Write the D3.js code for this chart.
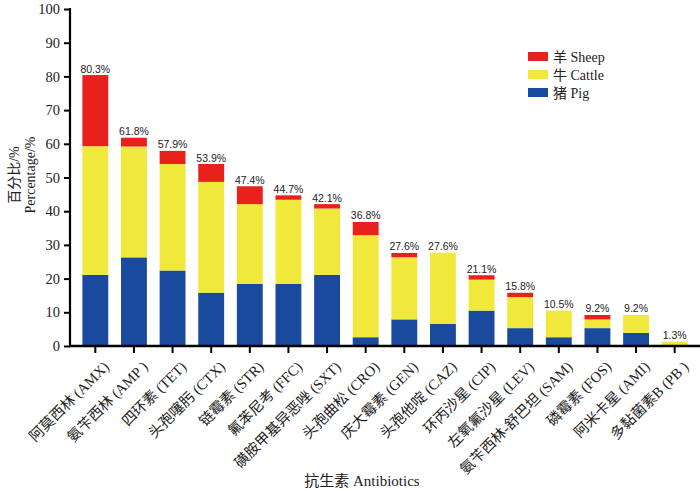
<!DOCTYPE html>
<html>
<head>
<meta charset="utf-8">
<script src="https://cdn.jsdelivr.net/npm/d3@7"></script>
<style>
  body { margin: 0; background: #fff; }
  .serif { font-family: "Liberation Serif", "Noto Sans CJK SC", serif; }
</style>
</head>
<body>
<div id="chart"></div>
<script>
const categories = [
  "阿莫西林 (AMX)", "氨苄西林 (AMP )", "四环素 (TET)", "头孢噻肟 (CTX)",
  "链霉素 (STR)", "氟苯尼考 (FFC)", "磺胺甲基异恶唑 (SXT)", "头孢曲松 (CRO)",
  "庆大霉素 (GEN)", "头孢他啶 (CAZ)", "环丙沙星 (CIP)", "左氧氟沙星 (LEV)",
  "氨苄西林-舒巴坦 (SAM)", "磷霉素 (FOS)", "阿米卡星 (AMI)", "多黏菌素B (PB )"
];
const pig = [21.1, 26.3, 22.4, 15.8, 18.4, 18.4, 21.1, 2.6, 7.9, 6.6, 10.5, 5.3, 2.6, 5.3, 3.9, 0];
const cattle = [38.2, 32.9, 31.6, 32.9, 23.7, 25.0, 19.7, 30.3, 18.4, 21.1, 9.2, 9.2, 7.9, 2.6, 5.3, 1.3];
const sheep = [21.1, 2.6, 3.9, 5.3, 5.3, 1.3, 1.3, 3.9, 1.3, 0, 1.3, 1.3, 0, 1.3, 0, 0];
const totals = ["80.3%", "61.8%", "57.9%", "53.9%", "47.4%", "44.7%", "42.1%", "36.8%",
  "27.6%", "27.6%", "21.1%", "15.8%", "10.5%", "9.2%", "9.2%", "1.3%"];
const yTicks = [0, 10, 20, 30, 40, 50, 60, 70, 80, 90, 100];

const seriesKeys = ["pig", "cattle", "sheep"];
const seriesNames = { sheep: "羊 Sheep", cattle: "牛 Cattle", pig: "猪 Pig" };
const colors = { pig: "#1a4a9e", cattle: "#f0e93c", sheep: "#e8211d" };

const table = categories.map((c, i) => ({ cat: c, pig: pig[i], cattle: cattle[i], sheep: sheep[i], label: totals[i] }));

const width = 700, height = 491;
const svg = d3.select("#chart").append("svg").attr("width", width).attr("height", height);

const x = d3.scaleBand().domain(categories).range([76, 694]).paddingInner(0.33).paddingOuter(0.165);
const y = d3.scaleLinear().domain([0, 100]).range([346, 9]);

const stacked = d3.stack().keys(seriesKeys)(table);

// bars
svg.append("g")
  .selectAll("g")
  .data(stacked)
  .join("g")
  .attr("fill", (d) => colors[d.key])
  .selectAll("rect")
  .data((d) => d)
  .join("rect")
  .attr("x", (d) => x(d.data.cat))
  .attr("width", x.bandwidth())
  .attr("y", (d) => y(d[1]))
  .attr("height", (d) => y(d[0]) - y(d[1]));

// value labels
svg.append("g")
  .selectAll("text")
  .data(stacked[stacked.length - 1])
  .join("text")
  .attr("x", (d) => x(d.data.cat) + x.bandwidth() / 2)
  .attr("y", (d) => y(d[1]) - 2.5)
  .attr("text-anchor", "middle")
  .style("font-family", "'Liberation Sans', Arial, sans-serif")
  .style("font-size", "10.5px")
  .attr("fill", "#222")
  .text((d) => d.data.label);

// y axis
const yAxis = svg.append("g")
  .attr("transform", "translate(70,0)")
  .call(d3.axisLeft(y).tickValues(yTicks).tickSize(6).tickPadding(4));
yAxis.select(".domain").attr("stroke-width", 2.2).attr("d", "M0,8V347");
yAxis.selectAll(".tick line").attr("stroke-width", 2);
yAxis.selectAll(".tick text")
  .attr("class", "serif")
  .style("font-size", "14.5px")
  .attr("fill", "#222");

// x axis
const xAxis = svg.append("g")
  .attr("transform", "translate(0,346)")
  .call(d3.axisBottom(x).tickSize(7).tickSizeOuter(0));
xAxis.select(".domain").attr("stroke-width", 2.4).attr("d", "M69,0H700");
xAxis.selectAll(".tick line").attr("stroke-width", 2);
xAxis.selectAll(".tick text")
  .attr("class", "serif")
  .style("font-size", "14.6px")
  .attr("fill", "#222")
  .attr("text-anchor", "end")
  .attr("dy", "0.35em")
  .attr("transform", "translate(4,11) rotate(-45)");

// axis titles
const yTitle = svg.append("text")
  .attr("class", "serif")
  .attr("transform", "translate(0,175) rotate(-90)")
  .attr("text-anchor", "middle")
  .style("font-size", "14px")
  .attr("fill", "#222");
yTitle.append("tspan").attr("x", 0).attr("y", 19).text("百分比/%");
yTitle.append("tspan").attr("x", 0).attr("y", 35).text("Percentage/%");

svg.append("text")
  .attr("class", "serif")
  .attr("x", 362)
  .attr("y", 486)
  .attr("text-anchor", "middle")
  .style("font-size", "15px")
  .attr("fill", "#222")
  .text("抗生素 Antibiotics");

// legend
const legendKeys = ["sheep", "cattle", "pig"];
const legend = svg.append("g").attr("transform", "translate(528,52)");
const item = legend.selectAll("g")
  .data(legendKeys)
  .join("g")
  .attr("transform", (d, i) => `translate(0,${i * 18})`);
item.append("rect")
  .attr("width", 20)
  .attr("height", 9)
  .attr("fill", (d) => colors[d]);
item.append("text")
  .attr("class", "serif")
  .attr("x", 25)
  .attr("y", 9.5)
  .style("font-size", "14px")
  .attr("fill", "#222")
  .text((d) => seriesNames[d]);
</script>
</body>
</html>
